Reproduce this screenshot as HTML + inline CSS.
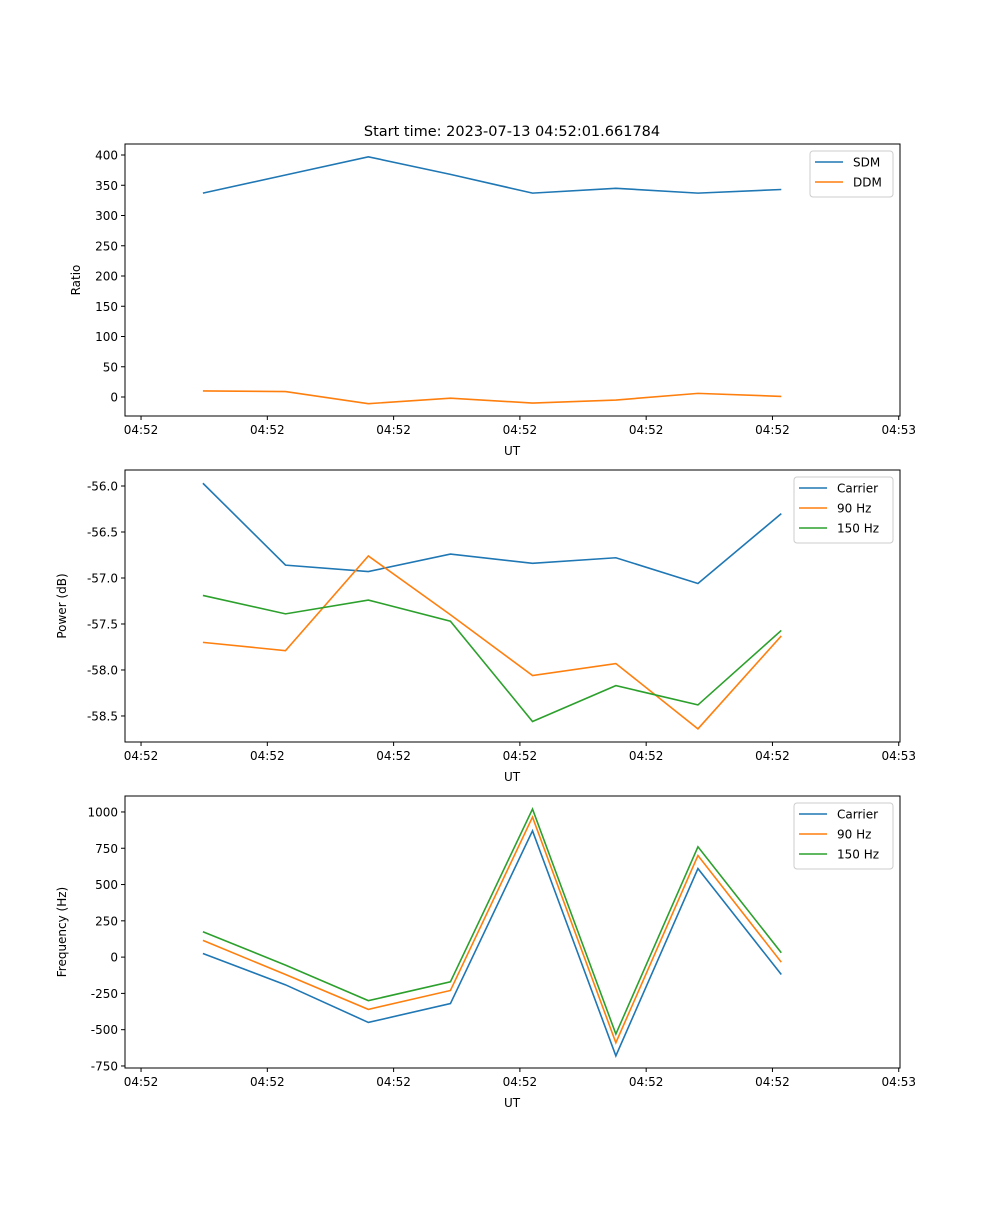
<!DOCTYPE html>
<html><head><meta charset="utf-8"><style>
body{margin:0;background:#fff}
svg text{font-family:"DejaVu Sans","Liberation Sans",sans-serif;font-size:12px;fill:#000}
</style></head><body>
<svg id="chart" width="1000" height="1200" xmlns="http://www.w3.org/2000/svg">
<rect width="1000" height="1200" fill="#fff"/>
<text x="512" y="136" text-anchor="middle" style="font-size:14.5px">Start time: 2023-07-13 04:52:01.661784</text>
</svg>
<script>
const times = [0.49, 1.144, 1.80, 2.45, 3.10, 3.76, 4.41, 5.07];
const xTickVals = [0, 1, 2, 3, 4, 5, 6];
const xTickLabels = ["04:52","04:52","04:52","04:52","04:52","04:52","04:53"];
const sdm = [337, 367, 397, 368, 337, 345, 337, 343];
const ddm = [10, 9, -11, -2, -10, -5, 6, 1];
const powCarrier = [-55.97, -56.86, -56.93, -56.74, -56.84, -56.78, -57.06, -56.30];
const pow90 = [-57.70, -57.79, -56.76, -57.40, -58.06, -57.93, -58.64, -57.63];
const pow150 = [-57.19, -57.39, -57.24, -57.47, -58.56, -58.17, -58.38, -57.57];
const freqCarrier = [25, -191, -450, -320, 870, -680, 610, -120];
const freq90 = [115, -120, -360, -230, 965, -590, 700, -35];
const freq150 = [175, -55, -300, -170, 1020, -530, 760, 30];
const ratioTicks = [0, 50, 100, 150, 200, 250, 300, 350, 400];
const powerTicks = [-58.5, -58.0, -57.5, -57.0, -56.5, -56.0];
const freqTicks = [-750, -500, -250, 0, 250, 500, 750, 1000];

const NS = "http://www.w3.org/2000/svg";
const svg = document.getElementById("chart");
function mk(tag, attrs, parent) {
  const e = document.createElementNS(NS, tag);
  for (const k in attrs) e.setAttribute(k, attrs[k]);
  (parent || svg).appendChild(e);
  return e;
}
const L = 125, R = 900;
const xMin = -0.127, xMax = 6.01;
const xs = v => L + (v - xMin) / (xMax - xMin) * (R - L);

function panel(name, top, bottom, yMin, yMax, ticks, fmt, ylabel, series, legend) {
  const g = mk("g", {});
  
  
  const ys = v => bottom - (v - yMin) / (yMax - yMin) * (bottom - top);
  ticks.forEach(t => {
    const y = ys(t);
    mk("line", {x1: L - 4, x2: L, y1: y, y2: y, stroke: "#000"}, g);
    const tx = mk("text", {x: L - 7, y: y + 4.5, "text-anchor": "end"}, g);
    tx.textContent = fmt(t);
  });
  xTickVals.forEach((t, i) => {
    const x = xs(t);
    mk("line", {x1: x, x2: x, y1: bottom, y2: bottom + 4, stroke: "#000"}, g);
    const tx = mk("text", {x: x, y: bottom + 18, "text-anchor": "middle"}, g);
    tx.textContent = xTickLabels[i];
  });
  const xl = mk("text", {x: 512, y: bottom + 39, "text-anchor": "middle"}, g);
  
  
  xl.textContent = "UT";
  const cy = (top + bottom) / 2;
  const lx = ylabel.length > 6 ? 66 : 80;
  const yl = mk("text", {x: lx, y: cy, "text-anchor": "middle", transform: `rotate(-90 ${lx} ${cy})`}, g);
  
  
  yl.textContent = ylabel;
  series.forEach(s => {
    const p = mk("polyline", {points: s.data.map((v, i) => xs(times[i]) + "," + ys(v)).join(" "), fill: "none", stroke: s.color, "stroke-width": 1.6}, g);
    
    
  });
  mk("rect", {x: L, y: top, width: R - L, height: bottom - top, fill: "none", stroke: "#000", "stroke-width": 1}, g);
  const lg = mk("g", {}, g);
  
  
  mk("rect", {x: legend.x, y: top + 7, width: legend.w, height: 20 * series.length + 6, fill: "#fff", stroke: "#ccc", rx: 3}, lg);
  series.forEach((s, i) => {
    const y = top + 18 + i * 20;
    mk("line", {x1: legend.x + 5, x2: legend.x + 33, y1: y, y2: y, stroke: s.color, "stroke-width": 1.6}, lg);
    const t = mk("text", {x: legend.x + 43, y: y + 4.5}, lg);
    
    
    t.textContent = s.label;
  });
}
const B = "#1f77b4", O = "#ff7f0e", G = "#2ca02c";
panel("ratio-panel", 144, 416, -31.4, 418.2, ratioTicks, v => String(v), "Ratio",
  [{id: "line-sdm", label: "SDM", data: sdm, color: B}, {id: "line-ddm", label: "DDM", data: ddm, color: O}], {x: 810, w: 83});
panel("power-panel", 470, 742, -58.783, -55.826, powerTicks, v => v.toFixed(1), "Power (dB)",
  [{id: "line-power-carrier", label: "Carrier", data: powCarrier, color: B}, {id: "line-power-90hz", label: "90 Hz", data: pow90, color: O}, {id: "line-power-150hz", label: "150 Hz", data: pow150, color: G}], {x: 794, w: 99});
panel("frequency-panel", 796, 1068, -764, 1110, freqTicks, v => String(v), "Frequency (Hz)",
  [{id: "line-freq-carrier", label: "Carrier", data: freqCarrier, color: B}, {id: "line-freq-90hz", label: "90 Hz", data: freq90, color: O}, {id: "line-freq-150hz", label: "150 Hz", data: freq150, color: G}], {x: 794, w: 99});
</script>
</body></html>
